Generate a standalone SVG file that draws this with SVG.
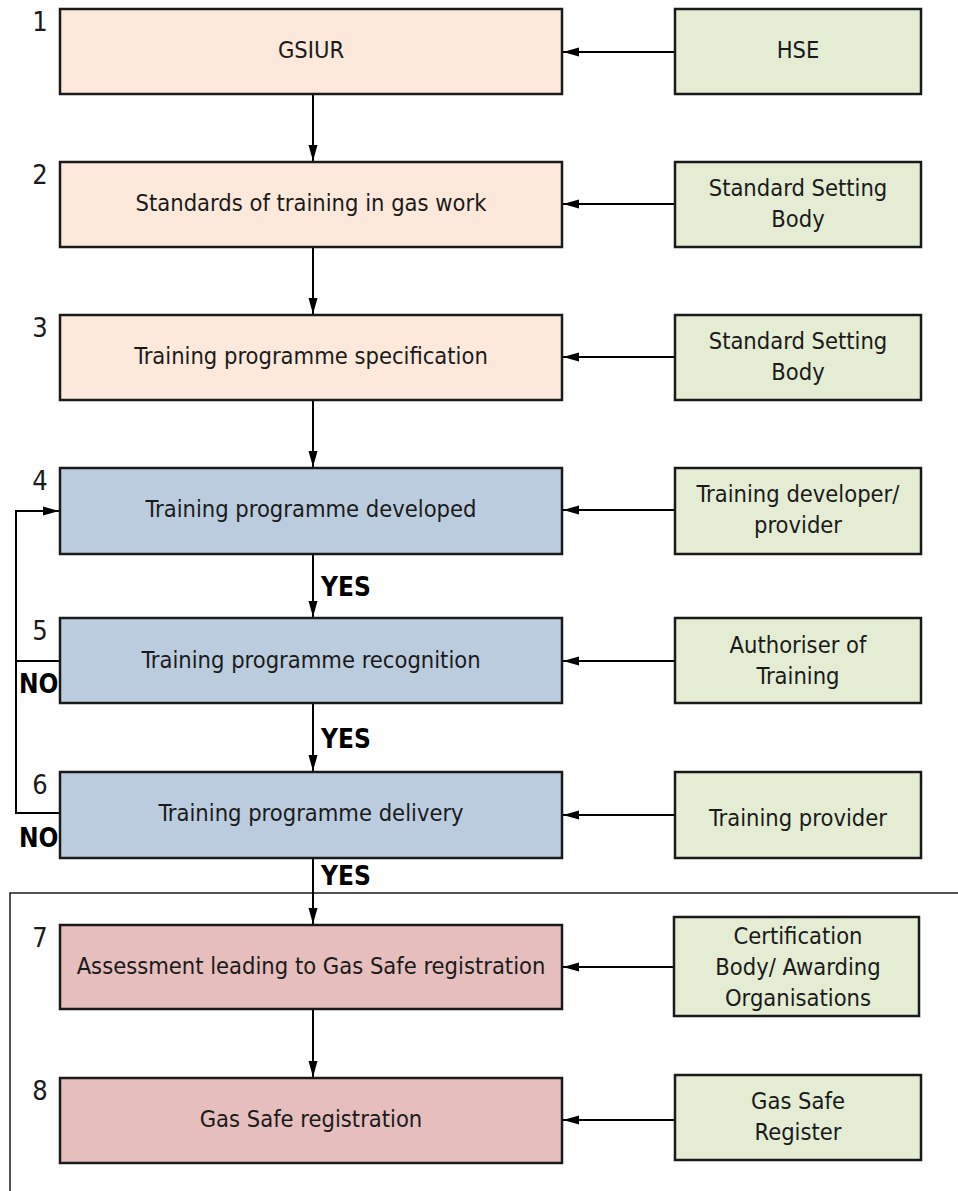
<svg xmlns="http://www.w3.org/2000/svg" width="958" height="1191" viewBox="0 0 958 1191">
<style>
.b{stroke:#1a1a1a;stroke-width:2.5}
.p{fill:#FCE9DB}.g{fill:#E4ECD4}.u{fill:#BBCCDF}.r{fill:#E6BEBE}
text{font-family:"DejaVu Sans Condensed","DejaVu Sans",sans-serif;font-stretch:condensed;font-size:23.5px;fill:#1a1a1a;text-anchor:middle}
.n{font-size:27px}
.k{font-weight:bold;font-size:26px;text-anchor:start;fill:#000}
.c{stroke:#000;stroke-width:2;fill:none}
</style>
<defs>
<marker id="a" viewBox="0 0 16 10" refX="16" refY="5" markerWidth="16" markerHeight="10" markerUnits="userSpaceOnUse" orient="auto"><path d="M0,0.5L16,5L0,9.5z" fill="#000"/></marker>
</defs>
<rect x="10" y="893" width="960" height="310" fill="none" stroke="#1a1a1a" stroke-width="1.5"/>
<g id="connectors">
<line class="c" x1="313" y1="94" x2="313" y2="161" marker-end="url(#a)"/>
<line class="c" x1="313" y1="247" x2="313" y2="314" marker-end="url(#a)"/>
<line class="c" x1="313" y1="400" x2="313" y2="467" marker-end="url(#a)"/>
<line class="c" x1="313" y1="554" x2="313" y2="617" marker-end="url(#a)"/>
<line class="c" x1="313" y1="703" x2="313" y2="771" marker-end="url(#a)"/>
<line class="c" x1="313" y1="858" x2="313" y2="924" marker-end="url(#a)"/>
<line class="c" x1="313" y1="1009" x2="313" y2="1077" marker-end="url(#a)"/>
<line class="c" x1="675" y1="52" x2="563" y2="52" marker-end="url(#a)"/>
<line class="c" x1="675" y1="204" x2="563" y2="204" marker-end="url(#a)"/>
<line class="c" x1="675" y1="357" x2="563" y2="357" marker-end="url(#a)"/>
<line class="c" x1="675" y1="510" x2="563" y2="510" marker-end="url(#a)"/>
<line class="c" x1="675" y1="661" x2="563" y2="661" marker-end="url(#a)"/>
<line class="c" x1="675" y1="815" x2="563" y2="815" marker-end="url(#a)"/>
<line class="c" x1="675" y1="967" x2="563" y2="967" marker-end="url(#a)"/>
<line class="c" x1="675" y1="1120" x2="563" y2="1120" marker-end="url(#a)"/>
<polyline class="c" points="60,661 16,661"/>
<polyline class="c" points="60,813 16,813 16,511 59,511" marker-end="url(#a)"/>
<text class="k" x="321" y="596">YES</text>
<text class="k" x="321" y="748">YES</text>
<text class="k" x="321" y="885">YES</text>
<text class="k" x="19" y="693">NO</text>
<text class="k" x="19" y="847">NO</text>
</g>
<g id="n1"><rect class="b p" x="60" y="9" width="502" height="85"/><text x="311" y="58">GSIUR</text><text class="n" x="40" y="31">1</text></g>
<g id="n2"><rect class="b p" x="60" y="162" width="502" height="85"/><text x="311" y="211">Standards of training in gas work</text><text class="n" x="40" y="184">2</text></g>
<g id="n3"><rect class="b p" x="60" y="315" width="502" height="85"/><text x="311" y="364">Training programme specification</text><text class="n" x="40" y="337">3</text></g>
<g id="n4"><rect class="b u" x="60" y="468" width="502" height="86"/><text x="311" y="517">Training programme developed</text><text class="n" x="40" y="490">4</text></g>
<g id="n5"><rect class="b u" x="60" y="618" width="502" height="85"/><text x="311" y="668">Training programme recognition</text><text class="n" x="40" y="640">5</text></g>
<g id="n6"><rect class="b u" x="60" y="772" width="502" height="86"/><text x="311" y="821">Training programme delivery</text><text class="n" x="40" y="794">6</text></g>
<g id="n7"><rect class="b r" x="60" y="925" width="502" height="84"/><text x="311" y="974">Assessment leading to Gas Safe registration</text><text class="n" x="40" y="947">7</text></g>
<g id="n8"><rect class="b r" x="60" y="1078" width="502" height="85"/><text x="311" y="1127">Gas Safe registration</text><text class="n" x="40" y="1100">8</text></g>
<g id="s1"><rect class="b g" x="675" y="9" width="246" height="85"/><text x="798" y="58">HSE</text></g>
<g id="s2"><rect class="b g" x="675" y="162" width="246" height="85"/><text x="798" y="196">Standard Setting</text><text x="798" y="227">Body</text></g>
<g id="s3"><rect class="b g" x="675" y="315" width="246" height="85"/><text x="798" y="349">Standard Setting</text><text x="798" y="380">Body</text></g>
<g id="s4"><rect class="b g" x="675" y="468" width="246" height="86"/><text x="798" y="502">Training developer/</text><text x="798" y="533">provider</text></g>
<g id="s5"><rect class="b g" x="675" y="618" width="246" height="85"/><text x="798" y="653">Authoriser of</text><text x="798" y="684">Training</text></g>
<g id="s6"><rect class="b g" x="675" y="772" width="246" height="86"/><text x="798" y="826">Training provider</text></g>
<g id="s7"><rect class="b g" x="674" y="917" width="245" height="99"/><text x="798" y="944">Certification</text><text x="798" y="975">Body/ Awarding</text><text x="798" y="1006">Organisations</text></g>
<g id="s8"><rect class="b g" x="675" y="1075" width="246" height="85"/><text x="798" y="1109">Gas Safe</text><text x="798" y="1140">Register</text></g>
</svg>
